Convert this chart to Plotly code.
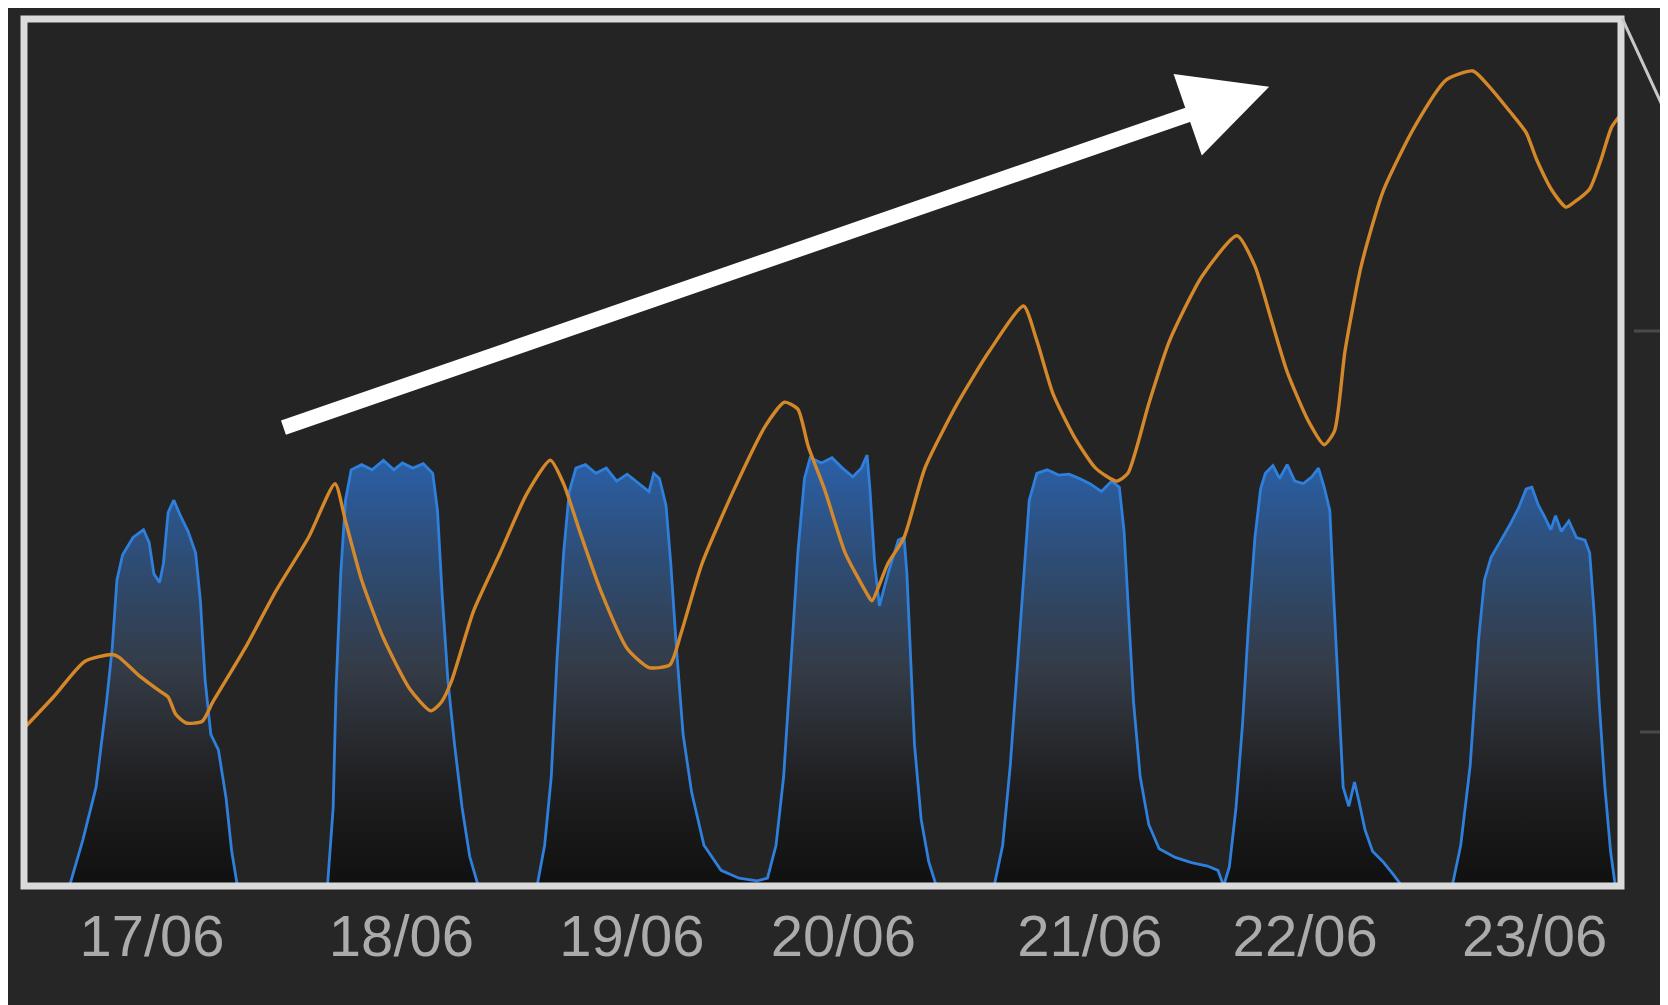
import plotly.graph_objects as go

# x values: hours since 17/06 00:00 ; y values: relative level (0-100 scale)
temp_hours = [-2.3, 0.8, 4.1, 7.0, 7.7, 9.8, 12.0, 12.9, 13.7, 14.8, 16.5, 17.6, 21.0, 24.3, 27.7,
              30.5, 31.6, 33.3, 35.6, 38.4, 40.6, 41.7, 42.8, 45.1, 47.9, 50.7, 53.2, 54.6, 56.3,
              58.5, 61.3, 63.6, 65.8, 67.0, 69.2, 72.6, 75.9, 77.9, 79.3, 80.4, 82.1, 84.3, 86.6,
              87.1, 88.8, 90.5, 92.7, 96.1, 99.5, 103.1, 104.5, 106.2, 108.4, 110.7, 112.9, 114.1,
              116.3, 118.5, 121.9, 125.6, 127.5, 129.2, 130.9, 133.1, 134.8, 135.9, 137.0, 138.7,
              141.0, 144.3, 147.7, 150.5, 152.2, 154.4, 156.1, 157.2, 158.9, 160.3, 161.2, 162.8,
              164.0, 165.1, 166.1]
temp_values = [18.2, 21.8, 25.9, 26.7, 26.4, 24.3, 22.5, 21.8, 19.8, 18.8, 19.0, 21.2, 27.4, 34.1, 40.2,
               46.4, 42.1, 35.3, 28.6, 22.7, 20.2, 21.2, 23.7, 31.7, 38.4, 45.2, 49.1, 46.4, 40.9,
               34.1, 27.4, 25.2, 25.5, 29.2, 37.2, 45.8, 53.1, 55.8, 55.0, 50.7, 45.8, 38.4, 33.7,
               32.9, 37.2, 40.2, 48.2, 55.6, 61.7, 66.9, 62.9, 56.8, 51.9, 48.2, 46.7, 47.6,
               55.6, 62.9, 70.3, 75.0, 71.5, 65.4, 59.3, 53.7, 50.9, 52.5, 61.7, 71.5,
               80.1, 87.5, 93.0, 94.0, 92.2, 89.3, 86.9, 83.8, 80.1, 78.3, 78.9, 80.4,
               83.8, 87.5, 89.0]

solar_hours = [-2.3, 2.5, 3.9, 5.3, 6.4, 7.0, 7.5, 8.1, 9.2, 10.3, 10.9, 11.4, 12.0, 12.4, 12.9, 13.5,
               14.2, 15.0, 15.8, 16.3, 16.8, 17.4, 18.2, 19.0, 19.6, 20.2,
               29.7, 30.3, 30.6, 31.1, 31.6, 32.2, 33.3, 34.4, 35.6, 36.7, 37.6, 38.7, 39.8, 40.8,
               41.3, 41.8, 42.4, 43.1, 43.9, 44.7, 45.6,
               51.8, 52.6, 53.3, 53.9, 54.6, 55.2, 55.9, 56.9, 58.0, 59.1, 60.2, 61.3, 62.5, 63.6,
               64.1, 64.7, 65.4, 65.9, 66.5, 67.2, 68.1, 69.4, 71.2, 73.1, 75.0,
               76.1, 77.0, 77.8, 78.6, 79.3, 80.0, 80.6, 81.8, 82.9, 84.0, 85.1, 86.0, 86.6, 86.9,
               87.4, 87.9, 88.8, 89.9, 90.5, 90.8, 91.2, 91.6, 92.3, 93.1, 93.9,
               100.0, 100.9, 101.7, 102.5, 103.2, 103.7, 104.5, 105.6, 106.8, 107.9, 109.0, 110.1,
               111.3, 112.4, 113.2, 113.7, 114.2, 114.7, 115.4, 116.3, 117.4, 119.1, 120.8, 122.5,
               123.6, 124.2,
               124.8, 125.5, 126.2, 126.8, 127.5, 128.1, 128.6, 129.4, 130.1, 130.9, 131.7, 132.6,
               133.5, 134.2, 134.8, 135.4, 135.8, 136.3, 136.8, 137.4, 138.0, 138.5, 139.1, 139.9,
               141.0, 142.1, 143.0,
               148.3, 149.2, 150.2, 151.1, 151.7, 152.4, 153.3, 154.4, 155.3, 156.1, 156.7, 157.4,
               158.0, 158.7, 159.2, 159.8, 160.6, 161.4, 162.3, 162.8, 163.3, 163.8, 164.4, 165.0,
               165.5, 166.1]
solar_values = [0, 0, 5.3, 11.4, 21.2, 27.4, 35.3, 38.2, 40.2, 41.1, 39.6, 36.0, 35.0, 37.2, 43.1, 44.5,
                42.7, 40.9, 38.4, 32.9, 23.7, 17.5, 15.7, 10.2, 4.0, 0,
                0, 9.0, 22.5, 36.0, 44.5, 48.0, 48.6, 48.0, 49.1, 48.0, 48.8, 48.2, 48.7, 47.6,
                43.3, 33.5, 23.7, 16.3, 9.0, 3.4, 0,
                0, 4.7, 12.6, 26.1, 38.4, 45.5, 48.2, 48.6, 47.6, 48.2, 46.7, 47.5, 46.4, 45.5,
                47.6, 47.0, 43.9, 37.2, 27.4, 17.5, 10.8, 4.7, 1.8, 0.9, 0.6,
                0.9, 4.7, 12.6, 26.1, 38.4, 47.0, 49.4, 48.8, 49.4, 48.2, 47.2, 48.2, 49.7, 45.8,
                37.2, 32.3, 36.0, 39.9, 40.2, 36.0, 26.1, 16.3, 7.7, 2.8, 0,
                0, 4.7, 13.9, 26.1, 37.2, 44.5, 47.6, 48.0, 47.4, 47.5, 47.0, 46.4,
                45.5, 46.7, 46.0, 40.9, 31.0, 21.2, 12.6, 7.1, 4.3, 3.3, 2.7, 2.3,
                1.8, 0,
                2.2, 9.0, 18.8, 29.8, 40.2, 45.8, 47.6, 48.5, 47.0, 48.6, 46.7, 46.4,
                47.2, 48.2, 46.0, 43.3, 33.5, 22.5, 11.4, 9.2, 12.0, 9.6, 6.5, 4.0,
                2.8, 1.3, 0,
                0, 4.7, 13.9, 28.6, 35.3, 37.9, 39.6, 41.7, 43.6, 45.8, 46.0, 43.9,
                42.7, 41.1, 42.7, 40.9, 42.1, 40.2, 39.9, 38.4, 31.0, 21.2, 11.4, 4.0,
                0, 0]

tick_hours = [11.2, 37.5, 61.8, 84.1, 110.1, 132.8, 157.0]
tick_labels = ["17/06", "18/06", "19/06", "20/06", "21/06", "22/06", "23/06"]

# trend arrow (tail -> head), in data units
arrow_tail = (24.9, 52.8)
arrow_head = (129.0, 92.2)

fig = go.Figure()

fig.add_trace(go.Scatter(
    x=solar_hours, y=solar_values, mode="lines",
    line=dict(color="#2f7fdc", width=2.8),
    fill="tozeroy",
    fillgradient=dict(
        type="vertical",
        colorscale=[[0, "rgb(16,16,16)"], [0.25, "rgb(32,32,34)"], [0.5, "rgb(52,59,70)"],
                    [0.75, "rgb(46,76,115)"], [1, "rgb(42,96,168)"]],
    ),
    hoverinfo="skip", showlegend=False,
))

fig.add_trace(go.Scatter(
    x=temp_hours, y=temp_values, mode="lines",
    line=dict(color="#d4882a", width=3.4, shape="spline", smoothing=0.6),
    hoverinfo="skip", showlegend=False,
))

fig.add_annotation(
    x=arrow_head[0], y=arrow_head[1], ax=arrow_tail[0], ay=arrow_tail[1],
    xref="x", yref="y", axref="x", ayref="y",
    text="", showarrow=True, arrowhead=2, arrowwidth=15, arrowsize=1.15,
    arrowcolor="#ffffff",
)

# the page puts the figure 8 px from the top-left corner
OFF = 8
W, H = 1660, 997
L, T = 24 - OFF, 19 - OFF
R = W - (1621 - OFF)
B = H - (886 - OFF)
pw, ph = W - L - R, H - T - B


def px(x):
    return (x - OFF - L) / pw


def py(y):
    return (H - B - (y - OFF)) / ph


shapes = [
    # white frame around the plot area
    dict(type="rect", xref="paper", yref="paper", x0=0, x1=1, y0=0, y1=1,
         line=dict(color="#dadada", width=7), layer="above"),
    # zoom connector line at top right
    dict(type="line", xref="paper", yref="paper", x0=px(1622), y0=py(18), x1=px(1668), y1=py(118),
         line=dict(color="#c8c8c8", width=3), layer="above"),
    # faint tick dashes at right
    dict(type="line", xref="paper", yref="paper", x0=px(1634), y0=py(331), x1=px(1668), y1=py(331),
         line=dict(color="#4a4a4a", width=3), layer="above"),
    dict(type="line", xref="paper", yref="paper", x0=px(1640), y0=py(732), x1=px(1668), y1=py(732),
         line=dict(color="#4a4a4a", width=3), layer="above"),
]

fig.update_layout(
    width=W, height=H,
    margin=dict(l=L, r=R, t=T, b=B),
    paper_bgcolor="#262626", plot_bgcolor="#242424",
    shapes=shapes,
    xaxis=dict(range=[-2.3, 166.1], showgrid=False, zeroline=False, showline=False,
               tickmode="array", tickvals=tick_hours, ticktext=tick_labels,
               ticks="", ticklabelstandoff=11,
               tickfont=dict(family="Liberation Sans, Arial, sans-serif", size=58, color="#ababab")),
    yaxis=dict(range=[0, 100], showgrid=False, zeroline=False, showline=False,
               showticklabels=False, ticks=""),
)

fig.write_html("out.html")
